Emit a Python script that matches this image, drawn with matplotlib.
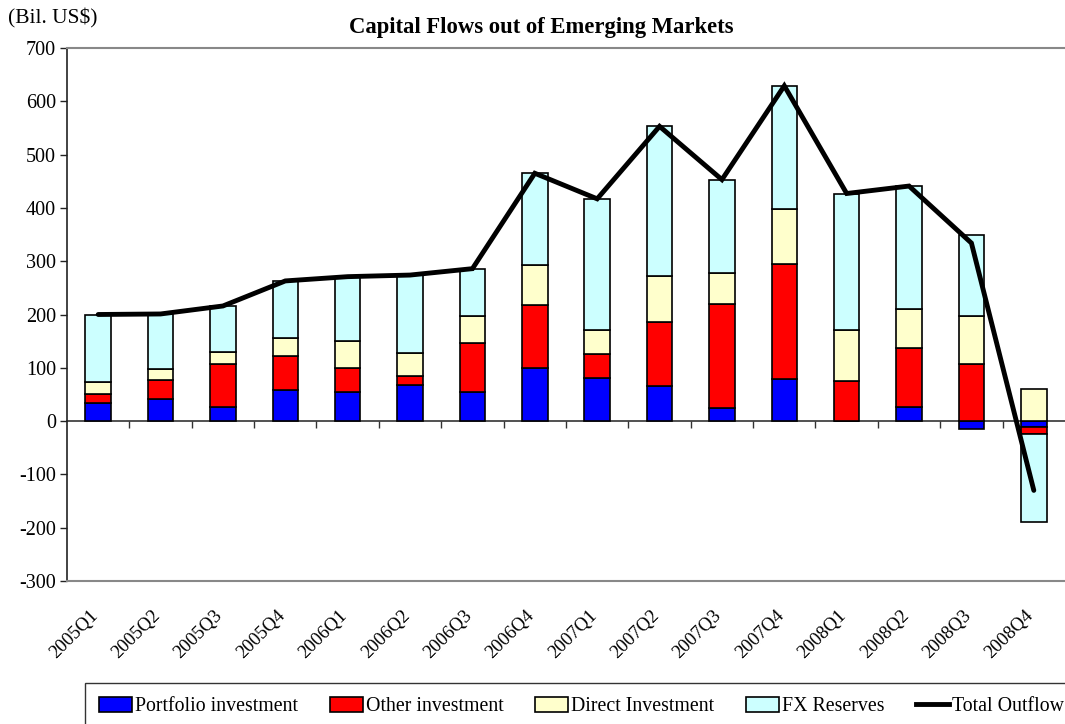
import numpy as np
import matplotlib.pyplot as plt
import matplotlib.transforms as mtransforms
from matplotlib.patches import Patch
from matplotlib.lines import Line2D

plt.rcParams['font.family'] = ['Liberation Serif', 'DejaVu Serif']
plt.rcParams['axes.unicode_minus'] = False

quarters = ['2005Q1', '2005Q2', '2005Q3', '2005Q4', '2006Q1', '2006Q2', '2006Q3', '2006Q4',
            '2007Q1', '2007Q2', '2007Q3', '2007Q4', '2008Q1', '2008Q2', '2008Q3', '2008Q4']

# Bil. US$
portfolio = [34, 42, 27, 59, 55, 67, 55, 100, 81, 66, 25, 79, 0, 26, -15, -12]
other = [16, 35, 80, 63, 45, 18, 92, 118, 44, 119, 195, 215, 76, 111, 107, -13]
direct = [24, 20, 23, 34, 50, 43, 50, 75, 46, 88, 58, 103, 95, 73, 91, 60]
fx_reserves = [126, 104, 86, 107, 121, 146, 89, 172, 246, 280, 175, 232, 256, 231, 151, -165]

series = [
    ('Portfolio investment', portfolio, '#0000FF'),
    ('Other investment', other, '#FF0000'),
    ('Direct Investment', direct, '#FFFFCC'),
    ('FX Reserves', fx_reserves, '#CCFFFF'),
]

total = np.sum([portfolio, other, direct, fx_reserves], axis=0)

fig = plt.figure(figsize=(10.65, 7.24), dpi=100)
ax = fig.add_axes([67 / 1065, 1 - 581 / 724, 1 - 67 / 1065, (581 - 48) / 724])

x = np.arange(len(quarters))
pos_base = np.zeros(len(quarters))
neg_base = np.zeros(len(quarters))
handles = []
for name, vals, col in series:
    vals = np.array(vals, dtype=float)
    base = np.where(vals >= 0, pos_base, neg_base)
    ax.bar(x, vals, bottom=base, width=0.41, color=col, edgecolor='black', linewidth=1.2, zorder=2)
    pos_base += np.where(vals >= 0, vals, 0)
    neg_base += np.where(vals < 0, vals, 0)
    handles.append(Patch(facecolor=col, edgecolor='black', linewidth=1.2, label=name))

ax.plot(x, total, color='black', linewidth=3.5, zorder=3, solid_capstyle='round', solid_joinstyle='miter')
handles.append(Line2D([], [], color='black', linewidth=3.5, label='Total Outflow'))

ax.set_xlim(-0.5, len(quarters) - 0.5)
ax.set_ylim(-300, 700)
ax.set_yticks(np.arange(-300, 701, 100))
ax.tick_params(axis='y', direction='out', length=5, width=1, colors='#222222', labelsize=14.5,
               labelcolor='black', pad=3)

ax.set_xticks(x)
ax.set_xticklabels(quarters, rotation=45, ha='right', rotation_mode='anchor')
ax.tick_params(axis='x', length=0, labelsize=13.5, pad=19)
shift = mtransforms.ScaledTranslation(-9 / 100, 0, fig.dpi_scale_trans)
for lbl in ax.get_xticklabels():
    lbl.set_transform(lbl.get_transform() + shift)

# category boundaries marked on the zero line
zero_axis = ax.secondary_xaxis(0.3)
zero_axis.set_xticks(np.arange(0.5, len(quarters) - 0.5, 1.0))
zero_axis.set_xticklabels([])
zero_axis.tick_params(direction='out', length=5, width=1, colors='#333333')
zero_axis.spines['bottom'].set_color('#333333')
zero_axis.spines['bottom'].set_linewidth(1.2)

for side in ['top', 'bottom']:
    ax.spines[side].set_color('#888888')
    ax.spines[side].set_linewidth(1.5)
ax.spines['left'].set_color('#222222')
ax.spines['left'].set_linewidth(1.2)
ax.spines['right'].set_visible(False)

fig.text(541 / 1065, 1 - 27 / 724, 'Capital Flows out of Emerging Markets', ha='center', va='center',
         fontsize=16.3, fontweight='bold')
fig.text(8 / 1065, 1 - 18 / 724, '(Bil. US$)', ha='left', va='center', fontsize=15.5)

leg = fig.legend(handles=handles, loc='upper left', bbox_to_anchor=(85 / 1065, 1 - 683 / 724), ncol=5,
                 frameon=True, fancybox=False, edgecolor='black', fontsize=14.3, handlelength=1.66,
                 handleheight=0.8, handletextpad=0.15, columnspacing=1.6, borderpad=0.7,
                 borderaxespad=0)
leg.get_frame().set_linewidth(1.0)

fig.savefig('out.png', dpi=100)
